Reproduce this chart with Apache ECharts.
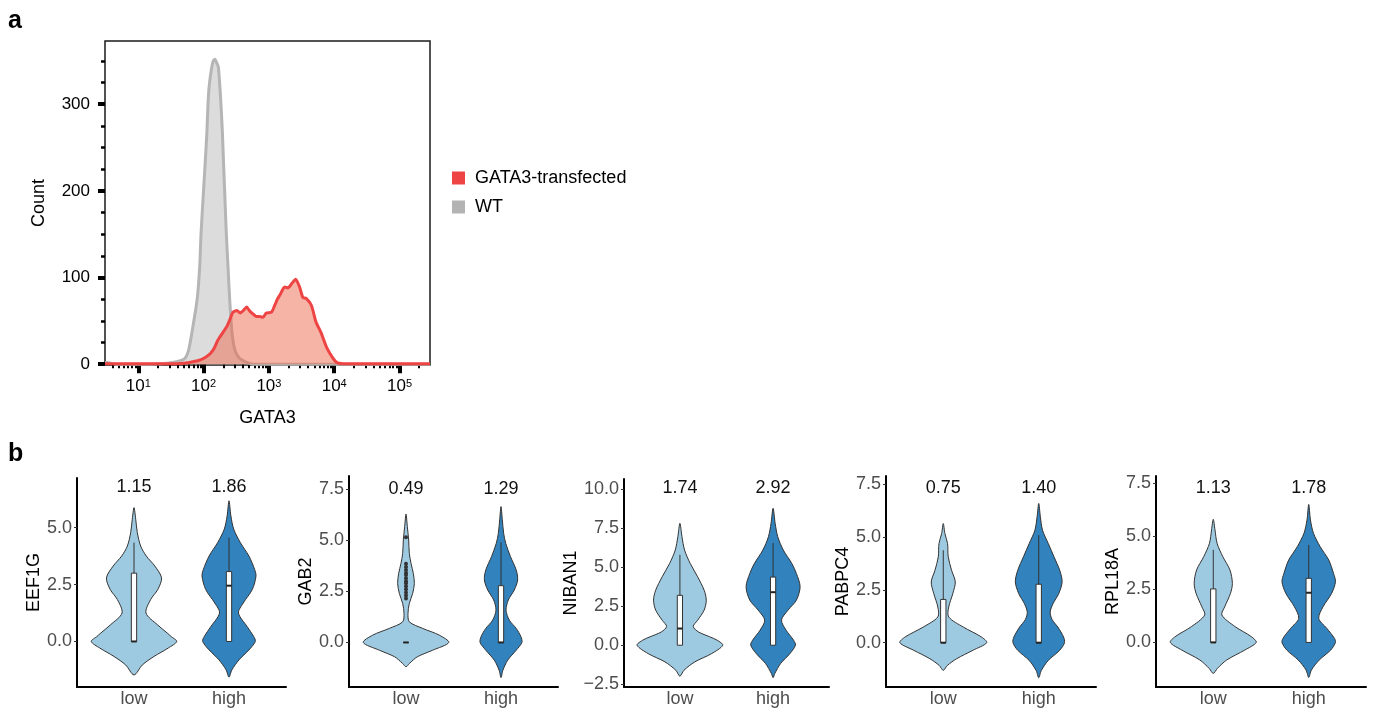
<!DOCTYPE html>
<html><head><meta charset="utf-8">
<script src="https://cdn.jsdelivr.net/npm/echarts@6/dist/echarts.min.js"></script>
<style>html,body{margin:0;padding:0;background:#fff}#c{width:1373px;height:710px}</style>
</head><body><div id="c"></div>
<script>
// ---------- Panel a: flow histogram (x in log10 units) ----------
const gata3Ticks = [1, 2, 3, 4, 5];
const gata3Exp = ['1', '2', '3', '4', '5'];
const countTicks = [0, 100, 200, 300];
const countMinorTicks = [25, 50, 75, 125, 150, 175, 225, 250, 275, 325, 350];
const seriesNames = ['GATA3-transfected', 'WT'];

const wtLog = [0.49,0.53,0.58,0.65,1.2,1.35,1.5,1.6,1.68,1.72,1.77,1.82,1.9,1.94,1.96,1.99,2.02,2.05,2.07,2.09,2.125,2.15,2.175,2.2,2.226,2.262,2.288,2.308,2.328,2.348,2.374,2.4,2.435,2.48,2.547,2.66,2.76,3.0,5.467];
const wtCount = [2,2,1,0,0,0.5,1.5,3,5,7,16,36,74,112,150,189,227,267,305,324,343,350,352,348,343,305,267,227,189,150,112,74,36,16,7,2,0,0,0];

const tfLog = [0.49,1.5,1.7,1.85,1.95,2.03,2.10,2.16,2.22,2.30,2.36,2.40,2.45,2.51,2.56,2.61,2.66,2.70,2.74,2.81,2.86,2.91,2.96,3.04,3.09,3.13,3.17,3.24,3.29,3.35,3.41,3.47,3.52,3.57,3.65,3.72,3.80,3.88,3.98,4.05,4.19,5.467];
const tfCount = [0.5,0.5,1,3,5,8,12,18,28,37,44,51,60,62,59,62,66,62,59,55,55,54,59,60,68,75,80,89,88,93,98,89,77,76,68,49,36,20,7,1.5,0.5,0.5];

// ---------- Panel b: violins ----------
const genes = ['EEF1G', 'GAB2', 'NIBAN1', 'PABPC4', 'RPL18A'];
const groups = ['low', 'high'];
const meanLabels = [['1.15','1.86'],['0.49','1.29'],['1.74','2.92'],['0.75','1.40'],['1.13','1.78']];
const labelYB = [6.8, 7.5, 10.08, 7.34, 7.29];
const yTicksB = [[0,2.5,5],[0,2.5,5,7.5],[-2.5,0,2.5,5,7.5,10],[0,2.5,5,7.5],[0,2.5,5,7.5]];
const yRangeB = [[-2,7.18],[-2.18,8.15],[-2.68,10.66],[-2.1,7.9],[-2.1,7.84]];

// violin profiles: [y, half width] from bottom tip to top tip
const eef1gLow = [[-1.47,0],[-1.03,0.088],[-0.66,0.21],[-0.29,0.36],[0,0.45],[0.22,0.39],[0.37,0.35],[0.74,0.245],[1.25,0.126],[1.84,0.175],[2.28,0.25],[2.79,0.29],[3.31,0.22],[3.75,0.13],[4.19,0.07],[4.78,0.035],[5.37,0.018],[5.88,0]];
const eef1gHigh = [[-1.57,0],[-1.25,0.03],[-0.81,0.105],[-0.37,0.21],[0,0.277],[0.22,0.26],[0.66,0.19],[1.25,0.1],[1.69,0.15],[2.28,0.245],[2.87,0.284],[3.16,0.27],[3.75,0.21],[4.34,0.12],[4.93,0.05],[5.51,0.02],[6.18,0]];
const gab2Low = [[-1.19,0],[-1.03,0.035],[-0.7,0.12],[-0.38,0.28],[0,0.45],[0.36,0.35],[0.69,0.175],[1.01,0.035],[1.42,0.021],[1.91,0.035],[2.4,0.07],[2.89,0.088],[3.38,0.077],[3.87,0.053],[4.36,0.035],[5.02,0.028],[5.67,0.014],[6.29,0]];
const gab2High = [[-1.72,0],[-1.36,0.02],[-0.87,0.07],[-0.38,0.16],[0,0.22],[0.28,0.21],[0.69,0.16],[1.09,0.088],[1.58,0.053],[2.08,0.077],[2.57,0.14],[3.06,0.175],[3.55,0.16],[4.2,0.1],[4.85,0.05],[5.34,0.028],[6.0,0.014],[6.65,0]];
const niban1Low = [[-1.99,0],[-1.61,0.043],[-1.07,0.16],[-0.54,0.34],[0,0.46],[0.32,0.40],[0.54,0.32],[0.85,0.2],[1.2,0.143],[1.6,0.19],[2.25,0.26],[2.89,0.283],[3.53,0.26],[4.39,0.19],[5.25,0.11],[6.1,0.05],[6.96,0.022],[7.82,0]];
const niban1High = [[-2.08,0],[-1.82,0.018],[-1.18,0.08],[-0.54,0.18],[0,0.24],[0.32,0.22],[0.96,0.14],[1.61,0.09],[2.25,0.16],[2.89,0.25],[3.75,0.29],[4.6,0.25],[5.25,0.2],[6.1,0.11],[6.96,0.05],[7.82,0.022],[8.78,0]];
const pabpc4Low = [[-1.31,0],[-1.08,0.042],[-0.76,0.14],[-0.36,0.31],[0,0.455],[0.27,0.4],[0.74,0.21],[1.22,0.057],[1.69,0.057],[2.33,0.1],[2.88,0.126],[3.43,0.087],[4.07,0.052],[4.7,0.045],[5.17,0.017],[5.65,0]];
const pabpc4High = [[-1.66,0],[-1.31,0.028],[-0.84,0.1],[-0.36,0.22],[0,0.27],[0.27,0.26],[0.74,0.2],[1.1,0.14],[1.45,0.12],[1.85,0.15],[2.33,0.21],[2.88,0.245],[3.43,0.22],[4.07,0.16],[4.7,0.1],[5.33,0.04],[5.97,0.017],[6.6,0]];
const rpl18aLow = [[-1.46,0],[-1.23,0.042],[-0.83,0.14],[-0.36,0.33],[0,0.45],[0.27,0.4],[0.74,0.23],[1.29,0.09],[1.68,0.12],[2.31,0.18],[2.78,0.2],[3.41,0.175],[4.04,0.1],[4.67,0.04],[5.3,0.018],[5.8,0]];
const rpl18aHigh = [[-1.65,0],[-1.3,0.028],[-0.83,0.11],[-0.36,0.23],[0,0.28],[0.19,0.27],[0.66,0.19],[1.13,0.105],[1.68,0.15],[2.31,0.24],[2.86,0.28],[3.25,0.26],[3.88,0.21],[4.51,0.12],[5.14,0.05],[5.77,0.018],[6.5,0]];

// box stats: [lower whisker, q1, median, q3, upper whisker]
const boxEEF1G = [[0,0,0,3.0,4.34],[0,0,2.45,3.07,4.56]];
const boxGAB2 = [[0,0,0,0,0],[0,0,0,2.78,4.9]];
const boxNIBAN1 = [[0,0,1.07,3.2,5.8],[0,0,3.4,4.37,6.55]];
const boxPABPC4 = [[0,0,0,2.05,4.38],[0,0,0,2.77,5.1]];
const boxRPL18A = [[0,0,0,2.52,4.36],[0,0,2.34,3.02,4.59]];
const gab2LowOutliers = [5.15,3.85,3.7,3.55,3.4,3.3,3.15,3.0,2.9,2.75,2.6,2.45,2.3,2.15];

const violinProfiles = [[eef1gLow,eef1gHigh],[gab2Low,gab2High],[niban1Low,niban1High],[pabpc4Low,pabpc4High],[rpl18aLow,rpl18aHigh]];
const boxStats = [boxEEF1G, boxGAB2, boxNIBAN1, boxPABPC4, boxRPL18A];
const outliers = [[[],[]],[gab2LowOutliers,[]],[[],[]],[[],[]],[[],[]]];

// ---------- layout ----------
const FONT = '"Liberation Sans", Arial, sans-serif';
const gridsB = [
  {left:77, top:478, width:209, height:209},
  {left:349, top:476, width:209, height:211},
  {left:624, top:479, width:205, height:208},
  {left:886, top:476, width:210, height:211},
  {left:1156, top:476, width:210, height:211}
];
const lowColor = '#9ECAE1', highColor = '#3182BD';

const xMinor = [];
for (let d = 0; d <= 5; d++) for (let k = 2; k <= 9; k++) {
  const v = d + Math.log10(k);
  if (v > 0.49 && v < 5.467) xMinor.push(v);
}

const grids = [{left:105, top:41, width:325, height:324, show:true, borderColor:'#1a1a1a', borderWidth:1.5, backgroundColor:'transparent'}].concat(gridsB);

const xAxes = [
  {gridIndex:0, type:'value', min:0.49, max:5.467, position:'bottom',
   axisLine:{show:false}, splitLine:{show:false},
   axisTick:{show:true, customValues:gata3Ticks, length:9, lineStyle:{color:'#000', width:4}},
   axisLabel:{customValues:gata3Ticks, margin:13,
     formatter: v => '{b|10}{s|' + gata3Exp[gata3Ticks.indexOf(Math.round(v))] + '}',
     rich:{b:{fontSize:17, color:'#000', fontFamily:FONT}, s:{fontSize:11, color:'#000', fontFamily:FONT, verticalAlign:'top'}}},
   name:'GATA3', nameLocation:'middle', nameGap:44, nameTextStyle:{fontSize:18, color:'#000', fontFamily:FONT}},
  {gridIndex:0, type:'value', min:0.49, max:5.467, position:'bottom', offset:0,
   axisLine:{show:false}, splitLine:{show:false}, axisLabel:{show:false},
   axisTick:{show:true, customValues:xMinor, length:4, lineStyle:{color:'#000', width:2}}}
];
const yAxes = [
  {gridIndex:0, type:'value', min:-1, max:373, position:'left',
   axisLine:{show:false}, splitLine:{show:false},
   axisTick:{show:true, customValues:countTicks, length:7, lineStyle:{color:'#000', width:4}},
   axisLabel:{customValues:countTicks, margin:15, fontSize:17, color:'#000', fontFamily:FONT},
   name:'Count', nameLocation:'middle', nameGap:57, nameRotate:90, nameTextStyle:{fontSize:18, color:'#000', fontFamily:FONT}},
  {gridIndex:0, type:'value', min:-1, max:373, position:'left', offset:0,
   axisLine:{show:false}, splitLine:{show:false}, axisLabel:{show:false},
   axisTick:{show:true, customValues:countMinorTicks, length:4, lineStyle:{color:'#000', width:2.5}}}
];

genes.forEach((g, p) => {
  xAxes.push({gridIndex:p+1, type:'value', min:0.4, max:2.6,
    axisLine:{show:true, onZero:false, lineStyle:{color:'#000', width:2}},
    axisTick:{show:false}, splitLine:{show:false},
    axisLabel:{customValues:[1,2], formatter: v => groups[Math.round(v)-1], margin:3, fontSize:18, color:'#4D4D4D', fontFamily:FONT}});
  yAxes.push({gridIndex:p+1, type:'value', min:yRangeB[p][0], max:yRangeB[p][1],
    axisLine:{show:true, onZero:false, lineStyle:{color:'#000', width:2}},
    axisTick:{show:true, customValues:yTicksB[p], length:3, lineStyle:{color:'#333', width:1}},
    splitLine:{show:false},
    axisLabel:{customValues:yTicksB[p], formatter: v => v.toFixed(1).replace('-', '\u2212'), margin:5, fontSize:18, color:'#4D4D4D', fontFamily:FONT},
    name:g, nameLocation:'middle', nameGap:33, nameRotate:90, nameTextStyle:{fontSize:18, color:'#000', fontFamily:FONT}});
});

const series = [
  {name:'WT', type:'line', xAxisIndex:0, yAxisIndex:0, data: wtLog.map((x,i)=>[x, wtCount[i]]),
   showSymbol:false, smooth:0.2, lineStyle:{color:'#B5B5B5', width:3}, itemStyle:{color:'#B3B3B3'},
   areaStyle:{color:'#DCDCDC', opacity:1}, z:2},
  {name:'GATA3-transfected', type:'line', xAxisIndex:0, yAxisIndex:0, data: tfLog.map((x,i)=>[x, tfCount[i]]),
   showSymbol:false, smooth:0.2, lineStyle:{color:'#EE4444', width:3}, itemStyle:{color:'#EE4444'},
   areaStyle:{color:'rgba(237,105,77,0.5)', opacity:1}, z:3}
];

genes.forEach((g, p) => {
  const prof = violinProfiles[p], box = boxStats[p], outl = outliers[p];
  series.push({
    type:'custom', xAxisIndex:p+2, yAxisIndex:p+2, clip:false,
    data:[[1,0],[2,0]],
    renderItem: function(params, api) {
      const i = params.dataIndex;
      const cx = api.value(0);
      const pr = prof[i];
      const pts = [];
      for (let k = 0; k < pr.length; k++) pts.push(api.coord([cx + pr[k][1], pr[k][0]]));
      for (let k = pr.length - 2; k >= 1; k--) pts.push(api.coord([cx - pr[k][1], pr[k][0]]));
      const children = [{type:'polygon', shape:{points:pts, smooth:0.3},
        style:{fill: i ? highColor : lowColor, stroke:'#333', lineWidth:1}}];
      const b = box[i];
      const bw = 0.028;
      const wTop = api.coord([cx, b[4]]), q3c = api.coord([cx, b[3]]);
      const q1c = api.coord([cx, b[1]]), wBot = api.coord([cx, b[0]]);
      children.push({type:'line', shape:{x1:wTop[0], y1:wTop[1], x2:q3c[0], y2:q3c[1]}, style:{stroke:'#333', lineWidth:1}});
      children.push({type:'line', shape:{x1:q1c[0], y1:q1c[1], x2:wBot[0], y2:wBot[1]}, style:{stroke:'#333', lineWidth:1}});
      const tl = api.coord([cx - bw, b[3]]), br = api.coord([cx + bw, b[1]]);
      children.push({type:'rect', shape:{x:tl[0], y:tl[1], width:br[0]-tl[0], height:Math.max(br[1]-tl[1], 0)},
        style:{fill:'#fff', stroke:'#333', lineWidth:1}});
      const mL = api.coord([cx - bw, b[2]]), mR = api.coord([cx + bw, b[2]]);
      children.push({type:'line', shape:{x1:mL[0], y1:mL[1], x2:mR[0], y2:mR[1]}, style:{stroke:'#222', lineWidth:2}});
      outl[i].forEach(v => {
        const c = api.coord([cx, v]);
        children.push({type:'circle', shape:{cx:c[0], cy:c[1], r:2}, style:{fill:'#333'}});
      });
      const t = api.coord([cx, labelYB[p]]);
      children.push({type:'text', style:{text: meanLabels[p][i], x:t[0], y:t[1], align:'center', verticalAlign:'middle',
        fontSize:18, fontFamily:FONT, fill:'#111'}});
      return {type:'group', children};
    }
  });
});

const chart = echarts.init(document.getElementById('c'), null, {renderer:'canvas'});
chart.setOption({
  animation:false,
  backgroundColor:'#fff',
  textStyle:{fontFamily:FONT},
  grid: grids,
  xAxis: xAxes,
  yAxis: yAxes,
  legend:{data:seriesNames, orient:'vertical', left:452, top:169, padding:0, itemWidth:13, itemHeight:13, itemGap:11, icon:'rect',
    textStyle:{fontSize:18, color:'#000', fontFamily:FONT, padding:[0,0,0,5]}},
  graphic:[
    {type:'text', left:8, top:9, style:{text:'a', font:'bold 25px ' + FONT, fill:'#000'}},
    {type:'text', left:8, top:442, style:{text:'b', font:'bold 25px ' + FONT, fill:'#000'}}
  ],
  series: series
});
</script></body></html>
